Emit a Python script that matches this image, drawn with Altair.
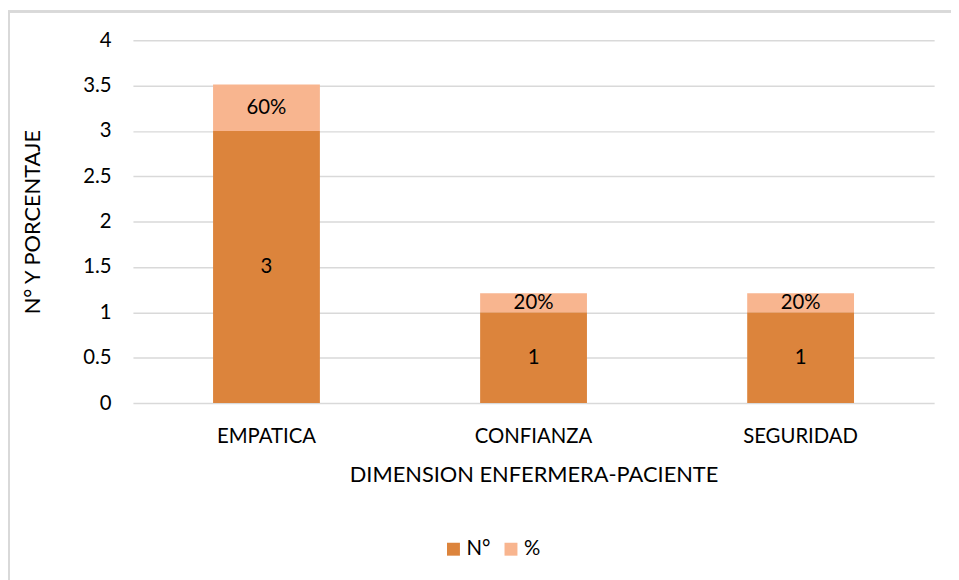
import altair as alt
import pandas as pd

categories = ["EMPATICA", "CONFIANZA", "SEGURIDAD"]
n_values = [3, 1, 1]
pct_values = [0.51, 0.21, 0.21]
pct_labels = ["60%", "20%", "20%"]
series_names = ["N°", "%"]
colors = ["#DC843C", "#F8B58F"]

rows = []
for c, n, p, pl in zip(categories, n_values, pct_values, pct_labels):
    rows.append({"cat": c, "serie": "N°", "val": n, "lab": str(n), "ord": 0})
    rows.append({"cat": c, "serie": "%", "val": p, "lab": pl, "ord": 1})
df = pd.DataFrame(rows)

FONT = "Lato"
LFS = 20.5
TFS = 22

base = alt.Chart(df).transform_stack(
    stack="val", groupby=["cat"], as_=["y0", "y1"], sort=[alt.SortField("ord")]
).transform_calculate(mid="(datum.y0 + datum.y1) / 2")

xenc = alt.X("cat:N", sort=categories, title="DIMENSION ENFERMERA-PACIENTE",
             scale=alt.Scale(paddingInner=0.6, paddingOuter=0.3),
             axis=alt.Axis(labelAngle=0, labelFontSize=LFS, labelPadding=24,
                           titleFontSize=TFS, titlePadding=18, ticks=False,
                           domain=False, grid=False, labelColor="#000",
                           titleColor="#000", titleFontWeight="normal"))

bars = base.mark_bar().encode(
    x=xenc,
    y=alt.Y("y0:Q", title="N° Y PORCENTAJE",
            scale=alt.Scale(domain=[0, 4]),
            axis=alt.Axis(values=[0, 0.5, 1, 1.5, 2, 2.5, 3, 3.5, 4],
                          labelExpr="datum.value", labelFontSize=LFS,
                          labelPadding=22, titleFontSize=TFS, titlePadding=39,
                          ticks=False, domain=False, gridColor="#D9D9D9",
                          gridWidth=1.5, labelColor="#000", titleColor="#000",
                          titleFontWeight="normal")),
    y2="y1:Q",
    color=alt.Color("serie:N", sort=series_names,
                    scale=alt.Scale(domain=series_names, range=colors),
                    legend=alt.Legend(title=None, orient="none", direction="horizontal",
                                      legendX=313, legendY=503, labelFontSize=LFS,
                                      symbolType="square", symbolSize=170,
                                      symbolStrokeWidth=0, columnPadding=10,
                                      labelOffset=3,
                                      labelColor="#000", labelFont=FONT)),
)

texts = base.mark_text(fontSize=LFS, color="#000", font=FONT).encode(
    x=alt.X("cat:N", sort=categories),
    y=alt.Y("mid:Q"),
    text="lab:N",
)

border = alt.Chart(df).mark_rect(fill=None, stroke="#D9D9D9", strokeWidth=2).encode(
    x=alt.value(-125), x2=alt.value(900), y=alt.value(-29), y2=alt.value(600)
)

chart = alt.layer(border, bars, texts).properties(
    width=808, height=366,
    padding={"left": 126, "top": 30, "right": 17, "bottom": 176},
    autosize=alt.AutoSizeParams(type="none"),
).configure(font=FONT).configure_view(stroke=None).configure_axis(
    labelFont=FONT, titleFont=FONT
)

chart.save("out.html", embed_options={"renderer": "svg", "actions": False})
